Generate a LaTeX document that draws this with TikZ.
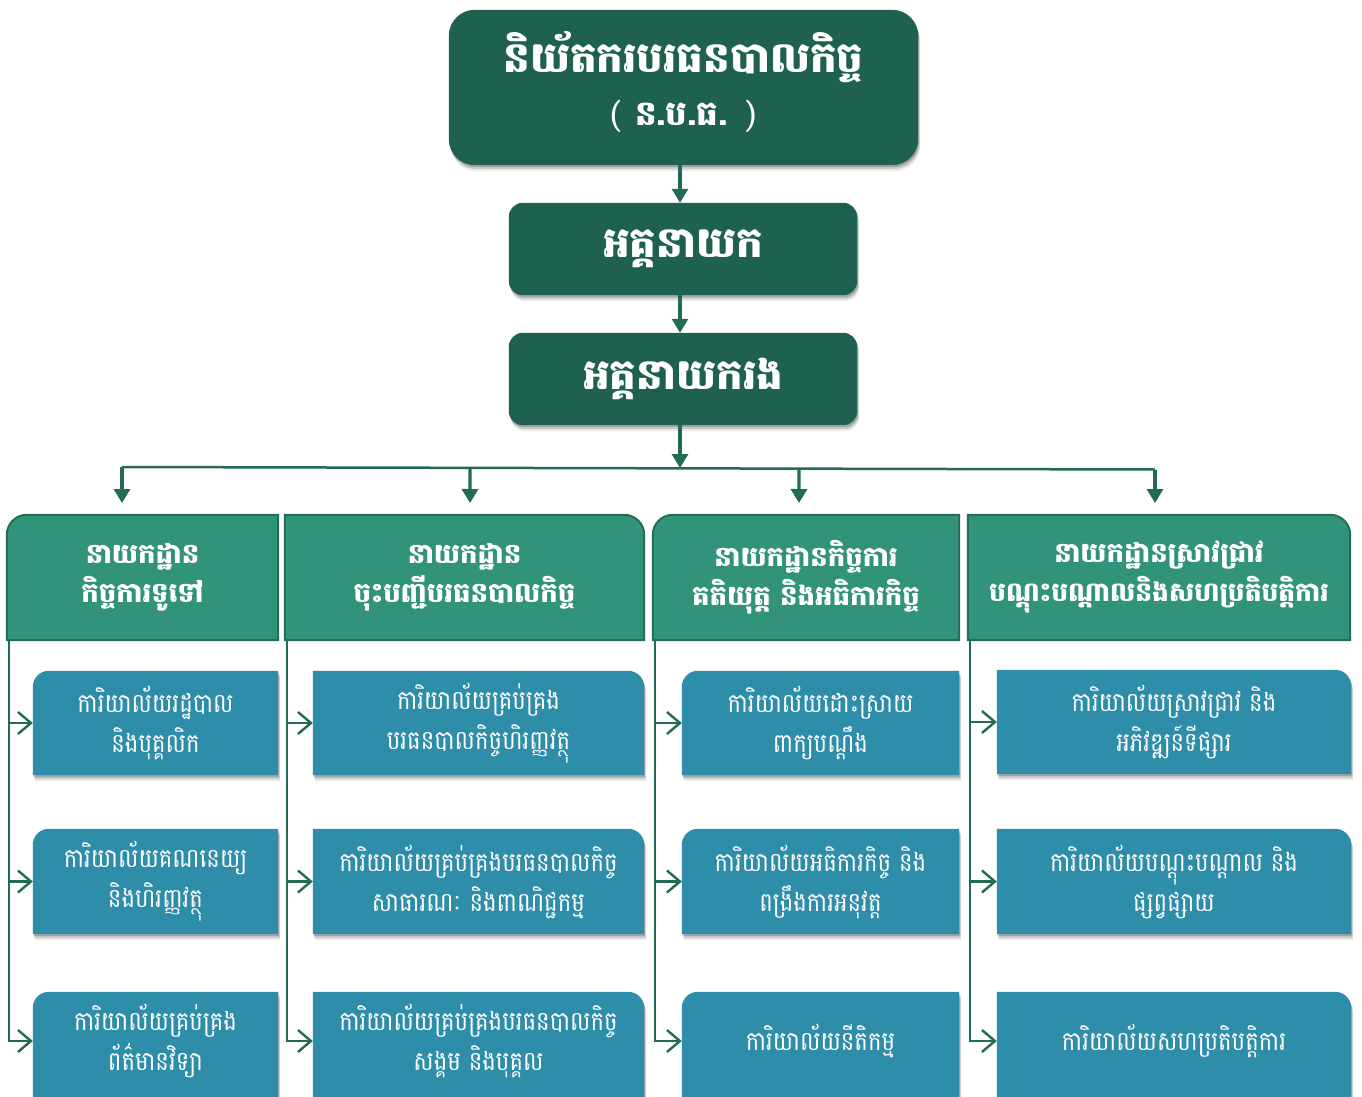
\documentclass[tikz,border=0pt]{standalone}
\usepackage{fontspec}
\newfontfamily\kh[Script=Khmer]{Battambang}
\newfontfamily\khn[Script=Khmer,FakeStretch=0.86]{Battambang}
\usetikzlibrary{arrows.meta,shadows,backgrounds,calc}
\definecolor{dkgreen}{HTML}{1F6150}
\definecolor{hdrfill}{HTML}{31937A}
\definecolor{hdrborder}{HTML}{246E58}
\definecolor{offfill}{HTML}{2E8DA8}
\definecolor{linecol}{HTML}{236B55}
\tikzset{
  boxtext/.style={inner sep=0pt, align=center, text=white},
  topbox/.style={boxtext, font=\kh\bfseries\fontsize{42}{60}\selectfont},
  midbox/.style={boxtext, font=\kh\bfseries\fontsize{42}{50}\selectfont},
  hdrbox/.style={boxtext, font=\kh\bfseries\fontsize{27.5}{39}\selectfont},
  offbox/.style={boxtext, font=\khn\fontsize{26.5}{40}\selectfont},
  shd/.style={
    drop shadow={shadow xshift=1pt, shadow yshift=-2pt, opacity=0.18, fill=black},
    drop shadow={shadow xshift=1.5pt, shadow yshift=-4pt, opacity=0.14, fill=black},
    drop shadow={shadow xshift=2pt, shadow yshift=-6pt, opacity=0.08, fill=black}},
  farr/.style={draw=linecol, line width=3.2pt, -{Triangle[length=14pt,width=16pt]}},
  plainline/.style={draw=linecol, line width=2.5pt},
  oarr/.style={draw=linecol, line width=2.4pt, -{Straight Barb[length=13pt,width=22pt,line width=2.4pt]}},
}
% #1 node, #2 extra depth below the node
\newcommand\ShapeTL[2]{%
  \fill[offfill,shd] ([yshift=-#2]#1.south west) -- ([yshift=-16pt]#1.north west)
    arc[start angle=180,end angle=90,radius=16pt] -- (#1.north east) -- ([yshift=-#2]#1.south east) -- cycle;}
\newcommand\ShapeTR[2]{%
  \fill[offfill,shd] ([yshift=-#2]#1.south west) -- (#1.north west) -- ([xshift=-16pt]#1.north east)
    arc[start angle=90,end angle=0,radius=16pt] -- ([yshift=-#2]#1.south east) -- cycle;}
\newcommand\HdrTL[1]{%
  \filldraw[fill=hdrfill,draw=hdrborder,line width=2pt] (#1.south west) -- ([yshift=-20pt]#1.north west)
    arc[start angle=180,end angle=90,radius=20pt] -- (#1.north east) -- (#1.south east) -- cycle;}
\newcommand\HdrTR[1]{%
  \filldraw[fill=hdrfill,draw=hdrborder,line width=2pt] (#1.south west) -- (#1.north west) -- ([xshift=-20pt]#1.north east)
    arc[start angle=90,end angle=0,radius=20pt] -- (#1.south east) -- cycle;}
\begin{document}
\begin{tikzpicture}[x=1pt,y=1pt]
\useasboundingbox (0,0) rectangle (1362,-1097);
% top boxes
\node[topbox, minimum width=469pt, minimum height=155pt] (T) at (683.5,-82.5)
  {និយ័តករបរធនបាលកិច្ច\\[-7pt]{\mdseries\fontsize{32}{40}\selectfont(} {\fontsize{34}{40}\selectfont ន.ប.ធ.} {\mdseries\fontsize{32}{40}\selectfont)}};
\coordinate (Tb) at ([yshift=-5pt]T.south);
\node[midbox, minimum width=348pt, minimum height=92pt] (A1) at (683,-249) {អគ្គនាយក};
\node[midbox, minimum width=348pt, minimum height=92pt] (A2) at (683,-379) {អគ្គនាយករង};
% headers
\node[hdrbox, minimum width=271pt, minimum height=125pt] (H1) at (142.5,-577.5) {នាយកដ្ឋាន\\កិច្ចការទូទៅ};
\node[hdrbox, minimum width=359pt, minimum height=125pt] (H2) at (464.5,-577.5) {នាយកដ្ឋាន\\ចុះបញ្ជីបរធនបាលកិច្ច};
\node[hdrbox, minimum width=306pt, minimum height=125pt] (H3) at (806,-577.5) {នាយកដ្ឋានកិច្ចការ\\គតិយុត្ត និងអធិការកិច្ច};
\node[hdrbox, minimum width=382pt, minimum height=125pt] (H4) at (1159,-577.5) {នាយកដ្ឋានស្រាវជ្រាវ\\{\fontsize{26.5}{39}\selectfont បណ្តុះបណ្តាលនិងសហប្រតិបត្តិការ}};
% offices col 1
\node[offbox, minimum width=245pt, minimum height=104pt] (O11) at (155.5,-723) {ការិយាល័យរដ្ឋបាល\\និងបុគ្គលិក};
\node[offbox, minimum width=245pt, minimum height=105pt] (O12) at (155.5,-881.5) {ការិយាល័យគណនេយ្យ\\និងហិរញ្ញវត្ថុ};
\node[offbox, minimum width=245pt, minimum height=98pt] (O13) at (155.5,-1041) {ការិយាល័យគ្រប់គ្រង\\ព័ត៌មានវិទ្យា};
% col 2
\node[offbox, minimum width=331pt, minimum height=104pt] (O21) at (478.5,-723) {ការិយាល័យគ្រប់គ្រង\\បរធនបាលកិច្ចហិរញ្ញវត្ថុ};
\node[offbox, minimum width=331pt, minimum height=105pt] (O22) at (478.5,-881.5) {ការិយាល័យគ្រប់គ្រងបរធនបាលកិច្ច\\សាធារណៈ និងពាណិជ្ជកម្ម};
\node[offbox, minimum width=331pt, minimum height=98pt] (O23) at (478.5,-1041) {ការិយាល័យគ្រប់គ្រងបរធនបាលកិច្ច\\សង្គម និងបុគ្គល};
% col 3
\node[offbox, minimum width=277pt, minimum height=104pt] (O31) at (820.5,-723) {ការិយាល័យដោះស្រាយ\\ពាក្យបណ្តឹង};
\node[offbox, minimum width=277pt, minimum height=105pt] (O32) at (820.5,-881.5) {ការិយាល័យអធិការកិច្ច និង\\ពង្រឹងការអនុវត្ត};
\node[offbox, minimum width=277pt, minimum height=98pt] (O33) at (820.5,-1041) {ការិយាល័យនីតិកម្ម};
% col 4
\node[offbox, minimum width=354pt, minimum height=104pt] (O41) at (1174,-722) {ការិយាល័យស្រាវជ្រាវ និង\\អភិវឌ្ឍន៍ទីផ្សារ};
\node[offbox, minimum width=354pt, minimum height=105pt] (O42) at (1174,-881.5) {ការិយាល័យបណ្តុះបណ្តាល និង\\ផ្សព្វផ្សាយ};
\node[offbox, minimum width=354pt, minimum height=98pt] (O43) at (1174,-1041) {ការិយាល័យសហប្រតិបត្តិការ};
\begin{scope}[on background layer]
  \fill[white] (0,0) rectangle (1362,-1097);
  \fill[dkgreen,shd,rounded corners=26pt] ([yshift=-5pt]T.south west) rectangle ([yshift=-5pt]T.north east);
  \fill[dkgreen,shd,rounded corners=14pt] (A1.south west) rectangle (A1.north east);
  \fill[dkgreen,shd,rounded corners=14pt] (A2.south west) rectangle (A2.north east);
  \HdrTL{H1} \HdrTR{H2} \HdrTL{H3} \HdrTR{H4}
  \ShapeTL{O11}{0pt} \ShapeTL{O12}{0pt} \ShapeTL{O13}{30pt}
  \ShapeTR{O21}{0pt} \ShapeTR{O22}{0pt} \ShapeTR{O23}{30pt}
  \ShapeTL{O31}{0pt} \ShapeTL{O32}{0pt} \ShapeTL{O33}{30pt}
  \ShapeTR{O41}{0pt} \ShapeTR{O42}{0pt} \ShapeTR{O43}{30pt}
\end{scope}
% vertical connectors top
\coordinate (ax) at (680,0);
\draw[farr] (Tb -| ax) -- (A1.north -| ax);
\draw[farr] (A1.south -| ax) -- (A2.north -| ax);
\coordinate (bus) at (680,-468);
\coordinate (busL) at (122,-467);
\coordinate (busR) at (1155,-469.5);
\draw[farr] (A2.south -| ax) -- (bus);
\draw[plainline] (busL) -- (busR);
\coordinate (t1) at (122,-503);
\coordinate (t2) at (470,-503);
\coordinate (t3) at (799,-503);
\coordinate (t4) at (1155,-503);
\draw[farr] (busL) -- (t1);
\draw[farr] ($(busL)!(t2)!(busR)$) -- (t2);
\draw[farr] ($(busL)!(t3)!(busR)$) -- (t3);
\draw[farr] (busR) -- (t4);
% side connectors
\coordinate (V1) at ([xshift=2pt]H1.south west);
\coordinate (V2) at ([xshift=2pt]H2.south west);
\coordinate (V3) at ([xshift=2pt]H3.south west);
\coordinate (V4) at ([xshift=2pt]H4.south west);
\foreach \c in {1,2,3,4}{
  \draw[oarr] (V\c |- O\c1.west) -- (O\c1.west);
  \draw[oarr] (V\c |- O\c2.west) -- (O\c2.west);
  \draw[oarr] (V\c) |- (O\c3.west);
}
\end{tikzpicture}
\end{document}
